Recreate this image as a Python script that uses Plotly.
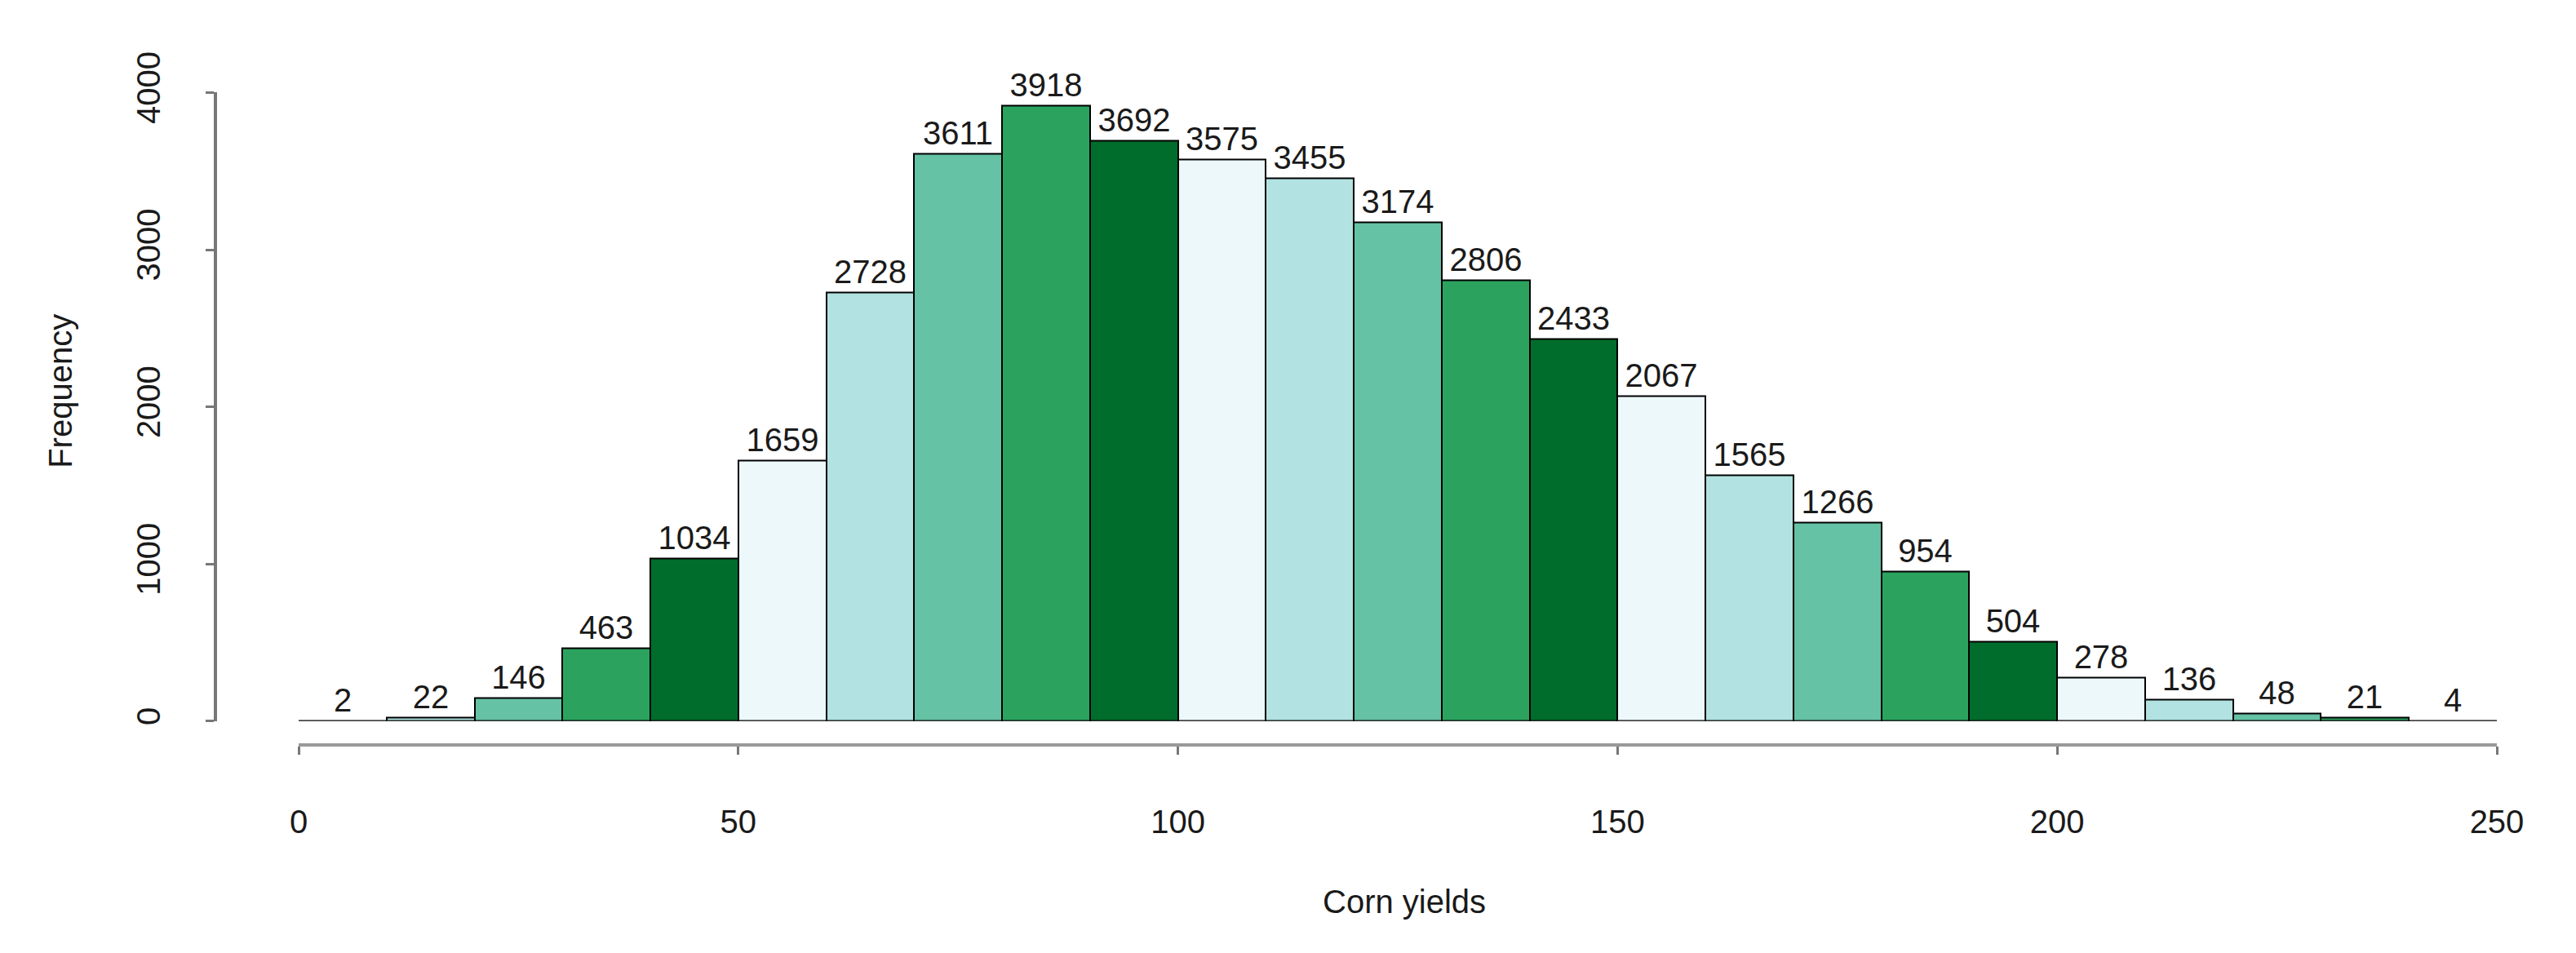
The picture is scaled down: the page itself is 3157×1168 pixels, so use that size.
import plotly.graph_objects as go

bin_starts = list(range(0, 250, 10))
counts = [2, 22, 146, 463, 1034, 1659, 2728, 3611, 3918, 3692, 3575, 3455, 3174,
          2806, 2433, 2067, 1565, 1266, 954, 504, 278, 136, 48, 21, 4]
palette = ["#EDF8FB", "#B2E2E2", "#66C2A4", "#2CA25F", "#006D2C"]
x_ticks = [0, 50, 100, 150, 200, 250]
y_ticks = [0, 1000, 2000, 3000, 4000]

W, H = 3157, 1168
L, R, T, B = 100, 50, 50, 150
pw, ph = W - L - R, H - T - B
def px_x(p): return (p - L) / pw
def px_y(p): return (H - B - p) / ph

centers = [s + 5 for s in bin_starts]
colors = [palette[i % 5] for i in range(len(counts))]
font = "Liberation Sans, Arial, sans-serif"

fig = go.Figure(go.Bar(
    x=centers, y=counts, width=10,
    marker=dict(color=colors, line=dict(color="black", width=2)),
    text=[str(c) for c in counts], textposition="outside",
    textfont=dict(size=40, color="#1a1a1a", family=font),
    cliponaxis=False,
))

fig.update_layout(
    width=W, height=H, plot_bgcolor="white", paper_bgcolor="white",
    margin=dict(l=L, r=R, t=T, b=B), showlegend=False, bargap=0,
    font=dict(family=font, size=40, color="#1a1a1a"),
    xaxis=dict(domain=[px_x(358), px_x(3052)], range=[0, 250],
               anchor="free", position=px_y(904),
               tickvals=x_ticks, ticks="outside", ticklen=10, tickwidth=3,
               tickcolor="#777", showline=True, linecolor="#999", linewidth=4,
               showgrid=False, zeroline=False, ticklabelstandoff=48,
               tickfont=dict(size=40)),
    yaxis=dict(domain=[px_y(874), px_y(94)], range=[0, 4000],
               anchor="free", position=px_x(256),
               tickvals=y_ticks, ticks="outside", ticklen=10, tickwidth=3,
               tickcolor="#777", showline=True, linecolor="#777", linewidth=4,
               showgrid=False, zeroline=False, tickangle=-90,
               ticklabelstandoff=40, tickfont=dict(size=40)),
    annotations=[
        dict(text="Corn yields", xref="paper", yref="paper", x=px_x(1713), y=px_y(1098),
             showarrow=False, font=dict(size=40), xanchor="center", yanchor="middle"),
        dict(text="Frequency", xref="paper", yref="paper", x=px_x(66), y=px_y(465),
             showarrow=False, font=dict(size=40), textangle=-90,
             xanchor="center", yanchor="middle"),
    ],
)

fig.write_html("out.html")
